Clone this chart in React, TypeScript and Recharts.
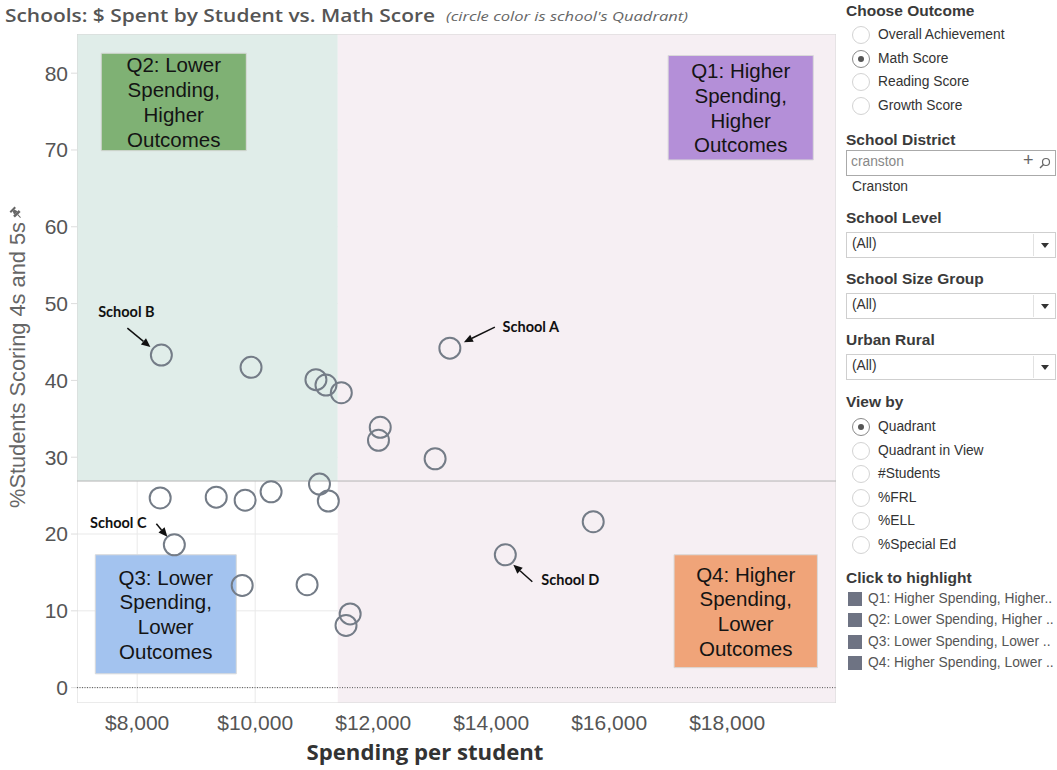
import {
  CartesianGrid,
  ReferenceArea,
  ReferenceLine,
  Scatter,
  ScatterChart,
  XAxis,
  YAxis,
} from "recharts";

// spending per student ($) and % scoring 4s/5s in math, one entry per school
const spending = [
  8410, 9930, 11030, 11200, 11460, 12120, 12090, 13050, 13300, 11090, 11240,
  8390, 9340, 9830, 10270, 8630, 9780, 10880, 11610, 11540, 14240, 15730,
];
const mathScore = [
  43.3, 41.7, 40.1, 39.4, 38.4, 33.9, 32.2, 29.8, 44.2, 26.5, 24.3, 24.7, 24.8,
  24.4, 25.5, 18.6, 13.3, 13.4, 9.6, 8.1, 17.3, 21.6,
];
const schoolLabel = [
  "School B", "", "", "", "", "", "", "", "School A", "", "", "", "", "", "",
  "School C", "", "", "", "", "School D", "",
];

const xTicks = [8000, 10000, 12000, 14000, 16000, 18000];
const yTicks = [0, 10, 20, 30, 40, 50, 60, 70, 80];

const spendSplit = 11400;
const scoreSplit = 26.9;

const quadLines = {
  q1: ["Q1: Higher", "Spending,", "Higher", "Outcomes"],
  q2: ["Q2: Lower", "Spending,", "Higher", "Outcomes"],
  q3: ["Q3: Lower", "Spending,", "Lower", "Outcomes"],
  q4: ["Q4: Higher", "Spending,", "Lower", "Outcomes"],
};

const outcomeOptions = ["Overall Achievement", "Math Score", "Reading Score", "Growth Score"];
const viewByOptions = ["Quadrant", "Quadrant in View", "#Students", "%FRL", "%ELL", "%Special Ed"];
const highlightItems = [
  "Q1: Higher Spending, Higher..",
  "Q2: Lower Spending, Higher ..",
  "Q3: Lower Spending, Lower ..",
  "Q4: Higher Spending, Lower ..",
];

const data = spending.map((s, i) => ({ spend: s, score: mathScore[i], name: schoolLabel[i] }));

// label placement relative to the circle: text centre, arrow start, arrow tip
const annot: Record<string, { t: [number, number]; a: [number, number, number, number] }> = {
  "School A": { t: [81, -22], a: [45, -21, 14, -6] },
  "School B": { t: [-35, -44], a: [-34, -27, -11, -8] },
  "School C": { t: [-56, -22], a: [-18, -21, -7, -8] },
  "School D": { t: [65, 25], a: [27, 27, 8, 10] },
};

const FONT = "Arial, 'Liberation Sans', sans-serif";

const Dot = (props: any) => {
  const { cx, cy, payload } = props;
  const a = annot[payload.name];
  let extra = null;
  if (a) {
    const [x1, y1, x2, y2] = a.a;
    const dx = x2 - x1;
    const dy = y2 - y1;
    const len = Math.sqrt(dx * dx + dy * dy);
    const ux = dx / len;
    const uy = dy / len;
    const bx = cx + x2 - ux * 9;
    const by = cy + y2 - uy * 9;
    const head = `${cx + x2},${cy + y2} ${bx - uy * 4},${by + ux * 4} ${bx + uy * 4},${by - ux * 4}`;
    extra = (
      <g>
        <line x1={cx + x1} y1={cy + y1} x2={bx} y2={by} stroke="#111" strokeWidth={1.5} />
        <polygon points={head} fill="#111" />
        <text
          x={cx + a.t[0]}
          y={cy + a.t[1]}
          textAnchor="middle"
          dominantBaseline="central"
          fontFamily="Lato, sans-serif"
          fontWeight={700}
          fontSize={14.5}
          fill="#111"
        >
          {payload.name}
        </text>
      </g>
    );
  }
  return (
    <g>
      <circle cx={cx} cy={cy} r={10.5} fill="none" stroke="#747c87" strokeWidth={2} />
      {extra}
    </g>
  );
};

const quadLabel = (lines: string[]) => (props: any) => {
  const { x, y, width, height } = props.viewBox;
  const cx = x + width / 2;
  const cy = y + height / 2;
  return (
    <g>
      {lines.map((l, i) => (
        <text
          key={i}
          x={cx}
          y={cy + (i - 1.5) * 24.7}
          textAnchor="middle"
          dominantBaseline="central"
          fontFamily={FONT}
          fontSize={20.5}
          fill="#141414"
        >
          {l}
        </text>
      ))}
    </g>
  );
};

const YTitle = () => {
  const cx = 18;
  const cy = 365;
  // text runs upward; pin icon sits just past its end
  return (
    <g transform={`rotate(-90 ${cx} ${cy})`}>
      <text
        x={cx}
        y={cy}
        textAnchor="middle"
        dominantBaseline="central"
        fontFamily={FONT}
        fontSize={21.5}
        fill="#666"
        textLength={286}
        lengthAdjust="spacingAndGlyphs"
      >
        %Students Scoring 4s and 5s
      </text>
      <g transform={`translate(${cx + 151} ${cy - 1}) rotate(-45)`} fill="#666">
        <rect x={-1} y={-4} width={2.5} height={8} />
        <path d="M 1.5 -2.5 L 5 -1.2 L 5 1.2 L 1.5 2.5 Z" />
        <rect x={5} y={-3.5} width={2} height={7} />
        <line x1={-5} y1={0} x2={-1} y2={0} stroke="#666" strokeWidth={1} />
      </g>
    </g>
  );
};

const XTitle = () => (
  <text
    x={425}
    y={760}
    textAnchor="middle"
    fontFamily="'Open Sans', sans-serif"
    fontWeight={700}
    fontSize={21}
    fill="#333"
    textLength={237}
    lengthAdjust="spacingAndGlyphs"
  >
    Spending per student
  </text>
);

const Radio = ({ y, label, on }: { y: number; label: string; on?: boolean }) => (
  <div style={{ position: "absolute", left: 852, top: y - 9, height: 18, width: 200 }}>
    <div
      style={{
        position: "absolute",
        left: 0,
        top: 0,
        width: 16,
        height: 16,
        borderRadius: 9,
        border: on ? "1px solid #8a8a8a" : "1px solid #d3d3d3",
        background: "#fff",
      }}
    >
      {on && (
        <div
          style={{
            position: "absolute",
            left: 5,
            top: 5,
            width: 6,
            height: 6,
            borderRadius: 3,
            background: "#555",
          }}
        />
      )}
    </div>
    <div style={{ position: "absolute", left: 26, top: 0, fontSize: 13.8, lineHeight: "18px", color: "#333" }}>
      {label}
    </div>
  </div>
);

const Header = ({ y, text }: { y: number; text: string }) => (
  <div
    style={{
      position: "absolute",
      left: 846,
      top: y - 10,
      fontSize: 15.5,
      fontWeight: 700,
      lineHeight: "20px",
      color: "#3a3a3a",
      whiteSpace: "nowrap",
    }}
  >
    {text}
  </div>
);

const Dropdown = ({ y }: { y: number }) => (
  <div
    style={{
      position: "absolute",
      left: 846,
      top: y,
      width: 208,
      height: 24,
      border: "1px solid #cfcfcf",
      background: "#fff",
    }}
  >
    <div style={{ position: "absolute", left: 5, top: 3, fontSize: 13.8, color: "#333" }}>(All)</div>
    <div style={{ position: "absolute", left: 186, top: 1, width: 1, height: 22, background: "#e2e2e2" }} />
    <div
      style={{
        position: "absolute",
        left: 194,
        top: 10,
        width: 0,
        height: 0,
        borderLeft: "4.5px solid transparent",
        borderRight: "4.5px solid transparent",
        borderTop: "5px solid #333",
      }}
    />
  </div>
);

const Panel = () => (
  <div style={{ fontFamily: FONT }}>
    <Header y={11} text="Choose Outcome" />
    {outcomeOptions.map((o, i) => (
      <Radio key={o} y={35 + i * 23.7} label={o} on={i === 1} />
    ))}
    <Header y={140} text="School District" />
    <div
      style={{
        position: "absolute",
        left: 846,
        top: 150,
        width: 208,
        height: 24,
        border: "1px solid #aaa",
        background: "#fff",
      }}
    >
      <div style={{ position: "absolute", left: 4, top: 3, fontSize: 13.8, color: "#888" }}>cranston</div>
      <div style={{ position: "absolute", left: 176, top: -1, fontSize: 18, color: "#666" }}>+</div>
      <svg style={{ position: "absolute", left: 192, top: 6 }} width={12} height={12}>
        <circle cx={7} cy={5} r={3.5} fill="none" stroke="#666" strokeWidth={1.2} />
        <line x1={4.5} y1={7.5} x2={1} y2={11} stroke="#666" strokeWidth={1.4} />
      </svg>
    </div>
    <div style={{ position: "absolute", left: 852, top: 179, fontSize: 13.8, color: "#333" }}>Cranston</div>
    <Header y={218} text="School Level" />
    <Dropdown y={232} />
    <Header y={279} text="School Size Group" />
    <Dropdown y={293} />
    <Header y={340} text="Urban Rural" />
    <Dropdown y={354} />
    <Header y={402} text="View by" />
    {viewByOptions.map((o, i) => (
      <Radio key={o} y={427 + i * 23.6} label={o} on={i === 0} />
    ))}
    <Header y={578} text="Click to highlight" />
    {highlightItems.map((h, i) => (
      <div key={h} style={{ position: "absolute", left: 848, top: 591 + i * 21.3, height: 16, width: 210 }}>
        <div style={{ position: "absolute", left: 0, top: 1, width: 14, height: 14, background: "#6e7383" }} />
        <div
          style={{
            position: "absolute",
            left: 20,
            top: 0,
            fontSize: 13.8,
            lineHeight: "16px",
            color: "#555",
            whiteSpace: "nowrap",
          }}
        >
          {h}
        </div>
      </div>
    ))}
  </div>
);

const App = () => {
  return (
    <div style={{ position: "absolute", left: 0, top: 0, width: 1057, height: 770, background: "#fff" }}>
      <svg style={{ position: "absolute", left: 0, top: 0 }} width={840} height={34}>
        <text
          x={5}
          y={22}
          fontFamily="'Open Sans', sans-serif"
          fontWeight={600}
          fontSize={18}
          fill="#555"
          textLength={430}
          lengthAdjust="spacingAndGlyphs"
        >
          Schools: $ Spent by Student vs. Math Score
        </text>
        <text
          x={446}
          y={21}
          fontFamily="'Open Sans', sans-serif"
          fontStyle="italic"
          fontSize={13}
          fill="#666"
          textLength={242}
          lengthAdjust="spacingAndGlyphs"
        >
          (circle color is school's Quadrant)
        </text>
      </svg>
      <div style={{ position: "absolute", left: 0, top: 0 }}>
        <ScatterChart width={840} height={770} margin={{ top: 34, right: 4, bottom: 0, left: 0 }}>
          {/* quadrant backgrounds */}
          <ReferenceArea x1={6980} x2={spendSplit} y1={scoreSplit} y2={85.1} fill="#e0ede9" fillOpacity={1} stroke="none" ifOverflow="hidden" />
          <ReferenceArea x1={spendSplit} x2={19845} y1={-2} y2={85.1} fill="#f6eff3" fillOpacity={1} stroke="none" ifOverflow="hidden" />
          <CartesianGrid stroke="#e9e9e9" verticalValues={xTicks} horizontalValues={yTicks} />
          <ReferenceArea x1={6980} x2={19845} y1={-2} y2={85.1} fill="none" stroke="#d6d6d6" strokeWidth={1} ifOverflow="hidden" />
          <ReferenceLine y={scoreSplit} stroke="#b4b4b4" strokeWidth={1} />
          <ReferenceLine y={0} stroke="#555" strokeDasharray="1 1.5" strokeWidth={1} />
          {/* quadrant name boxes */}
          <ReferenceArea x1={17000} x2={19460} y1={68.7} y2={82.3} fill="#b48fd8" fillOpacity={1} stroke="#d9d9d9" label={quadLabel(quadLines.q1)} />
          <ReferenceArea x1={7390} x2={9850} y1={69.9} y2={82.6} fill="#7fb174" fillOpacity={1} stroke="#d9d9d9" label={quadLabel(quadLines.q2)} />
          <ReferenceArea x1={7290} x2={9680} y1={1.8} y2={17.3} fill="#a3c3ef" fillOpacity={1} stroke="#d9d9d9" label={quadLabel(quadLines.q3)} />
          <ReferenceArea x1={17100} x2={19530} y1={2.6} y2={17.3} fill="#f0a479" fillOpacity={1} stroke="#d9d9d9" label={quadLabel(quadLines.q4)} />
          <XAxis
            type="number"
            dataKey="spend"
            domain={[6980, 19845]}
            ticks={xTicks}
            allowDataOverflow
            height={67}
            axisLine={false}
            tickLine={false}
            tickSize={6}
            tickMargin={6}
            tickFormatter={(v: number) => "$" + v.toLocaleString("en-US")}
            tick={{ fontFamily: FONT, fontSize: 21, fill: "#555" }}
            label={<XTitle />}
          />
          <YAxis
            type="number"
            dataKey="score"
            domain={[-2, 85.1]}
            ticks={yTicks}
            allowDataOverflow
            width={77}
            axisLine={false}
            tickLine={{ stroke: "#dddddd" }}
            tickSize={6}
            tickMargin={3}
            tick={{ fontFamily: FONT, fontSize: 21, fill: "#555" }}
            label={<YTitle />}
          />
          <Scatter data={data} shape={<Dot />} isAnimationActive={false} />
        </ScatterChart>
      </div>
      <Panel />
    </div>
  );
};

export default App;
